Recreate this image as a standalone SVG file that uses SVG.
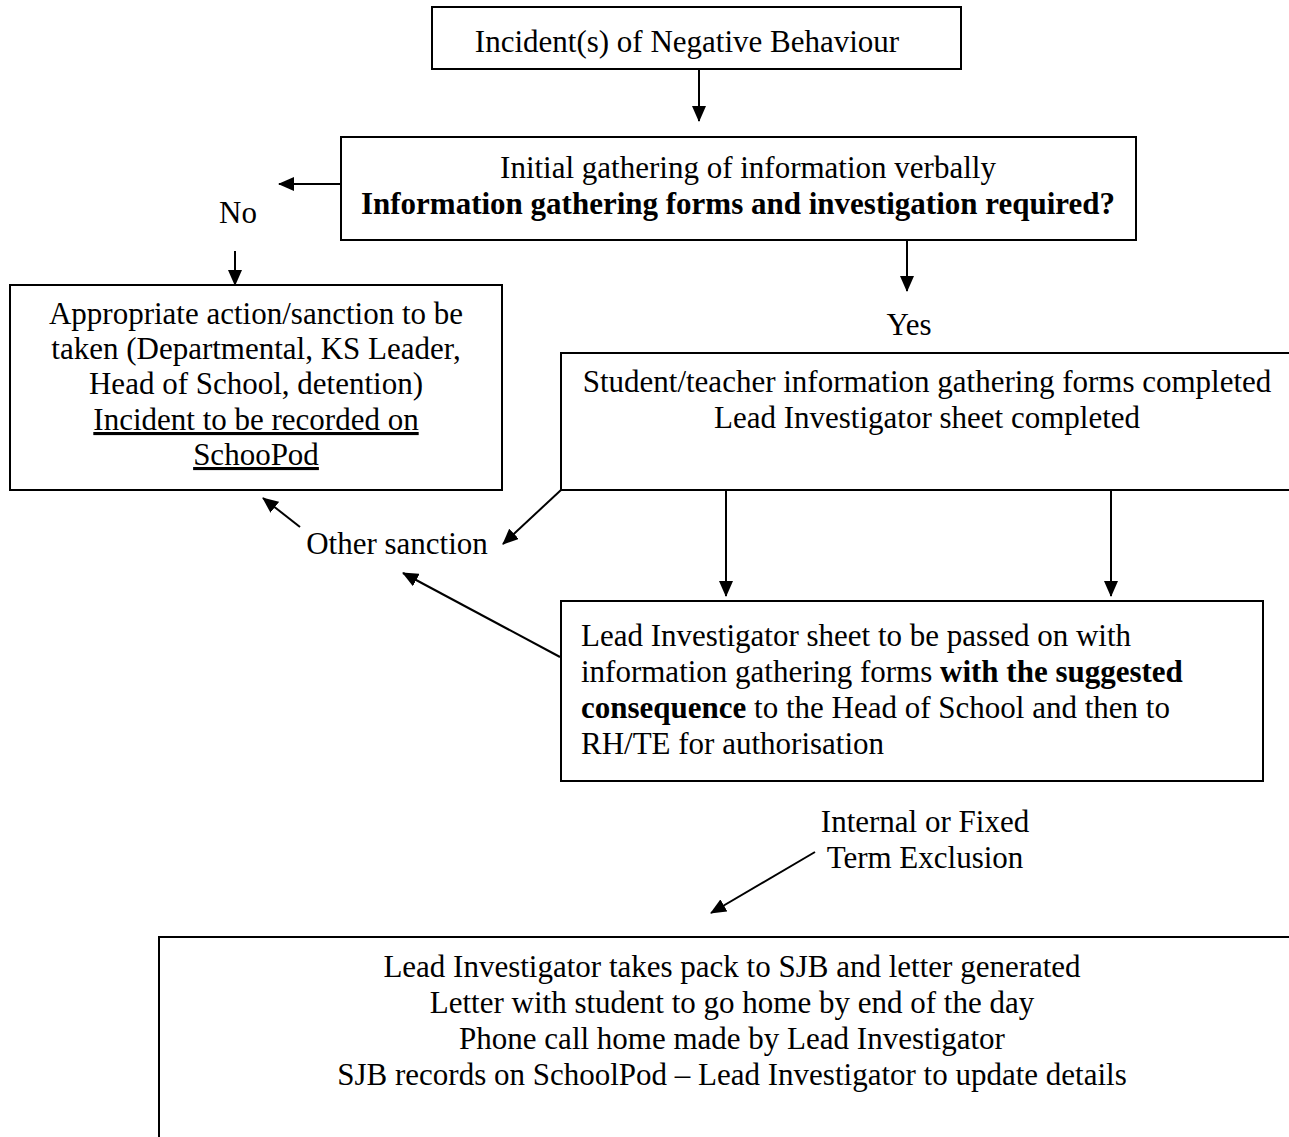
<svg xmlns="http://www.w3.org/2000/svg" width="1289" height="1137" viewBox="0 0 1289 1137">
<style>
.box{fill:#fff;stroke:#000;stroke-width:2}
.t{font-family:"Liberation Serif","Times New Roman",serif;font-size:31px;fill:#000}
.c{text-anchor:middle}
.b{font-weight:bold}
.u{text-decoration:underline}
.ln{stroke:#000;stroke-width:2;fill:none;marker-end:url(#ah)}
</style>
<defs>
<marker id="ah" markerUnits="userSpaceOnUse" markerWidth="16" markerHeight="14" refX="15" refY="7" orient="auto">
<path d="M0,0 L16,7 L0,14 Z" fill="#000"/>
</marker>
</defs>
<rect width="1289" height="1137" fill="#fff"/>
<g id="connectors">
<line class="ln" x1="699" y1="69" x2="699" y2="121"/>
<line class="ln" x1="341" y1="184" x2="279" y2="184"/>
<line class="ln" x1="235" y1="251" x2="235" y2="285"/>
<line class="ln" x1="907" y1="240" x2="907" y2="291"/>
<line class="ln" x1="561" y1="490" x2="503" y2="544"/>
<line class="ln" x1="300" y1="527" x2="263" y2="498"/>
<line class="ln" x1="560" y1="657" x2="403" y2="573"/>
<line class="ln" x1="726" y1="490" x2="726" y2="596"/>
<line class="ln" x1="1111" y1="490" x2="1111" y2="596"/>
<line class="ln" x1="815" y1="852" x2="711" y2="913"/>
</g>
<g id="n1">
<rect class="box" x="432" y="7" width="529" height="62"/>
<text class="t c" x="687" y="52">Incident(s) of Negative Behaviour</text>
</g>
<g id="n2">
<rect class="box" x="341" y="137" width="795" height="103"/>
<text class="t c" x="748" y="178">Initial gathering of information verbally</text>
<text class="t c b" x="738" y="214">Information gathering forms and investigation required?</text>
</g>
<g id="lblNo"><text class="t c" x="238" y="223">No</text></g>
<g id="n3">
<rect class="box" x="10" y="285" width="492" height="205"/>
<text class="t c" x="256" y="324">Appropriate action/sanction to be</text>
<text class="t c" x="256" y="359">taken (Departmental, KS Leader,</text>
<text class="t c" x="256" y="394">Head of School, detention)</text>
<text class="t c u" x="256" y="430">Incident to be recorded on</text>
<text class="t c u" x="256" y="465">SchooPod</text>
</g>
<g id="lblYes"><text class="t c" x="909" y="335">Yes</text></g>
<g id="n4">
<rect class="box" x="561" y="353" width="740" height="137"/>
<text class="t c" x="927" y="392">Student/teacher information gathering forms completed</text>
<text class="t c" x="927" y="428">Lead Investigator sheet completed</text>
</g>
<g id="lblOther"><text class="t c" x="397" y="554">Other sanction</text></g>
<g id="n5">
<rect class="box" x="561" y="601" width="702" height="180"/>
<text class="t" x="581" y="646">Lead Investigator sheet to be passed on with</text>
<text class="t" x="581" y="682">information gathering forms <tspan class="b">with the suggested</tspan></text>
<text class="t" x="581" y="718"><tspan class="b">consequence</tspan> to the Head of School and then to</text>
<text class="t" x="581" y="754">RH/TE for authorisation</text>
</g>
<g id="lblExcl">
<text class="t c" x="925" y="832">Internal or Fixed</text>
<text class="t c" x="925" y="868">Term Exclusion</text>
</g>
<g id="n6">
<rect class="box" x="159" y="937" width="1150" height="220"/>
<text class="t c" x="732" y="977">Lead Investigator takes pack to SJB and letter generated</text>
<text class="t c" x="732" y="1013">Letter with student to go home by end of the day</text>
<text class="t c" x="732" y="1049">Phone call home made by Lead Investigator</text>
<text class="t c" x="732" y="1085">SJB records on SchoolPod – Lead Investigator to update details</text>
</g>
</svg>
